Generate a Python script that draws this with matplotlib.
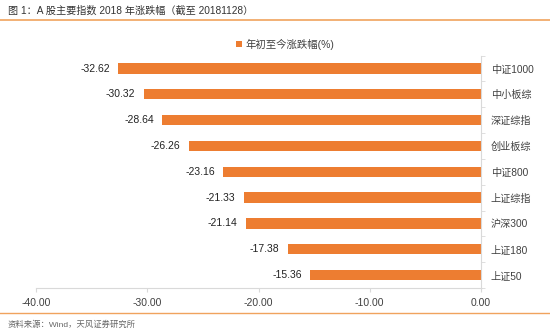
import matplotlib
matplotlib.use("Agg")
import matplotlib.pyplot as plt
from matplotlib.ticker import FixedLocator

plt.rcParams['font.family'] = ['Liberation Sans', 'Noto Sans CJK SC', 'DejaVu Sans']

indices = ["中证1000", "中小板综", "深证综指", "创业板综", "中证800",
           "上证综指", "沪深300", "上证180", "上证50"]
ytd_change = [-32.62, -30.32, -28.64, -26.26, -23.16, -21.33, -21.14, -17.38, -15.36]
x_ticks = [-40, -30, -20, -10, 0]
series_name = "年初至今涨跌幅(%)"
title = "图 1：A 股主要指数 2018 年涨跌幅（截至 20181128）"
source = "资料来源：Wind，天风证券研究所"

bar_color = "#ED7D31"
text_color = "#404040"
grid_gray = "#D9D9D9"
accent = "#F0A35E"

W, H = 550, 333
fig = plt.figure(figsize=(W / 100, H / 100), dpi=100)
ax = fig.add_axes([36 / W, 1 - 288 / H, 445 / W, (288 - 55.6) / H])

n = len(indices)
ypos = list(range(n))
bars = ax.barh(ypos, ytd_change, height=0.4, color=bar_color, label=series_name, zorder=2)
ax.set_ylim(n - 0.5, -0.5)
ax.set_xlim(-40, 0)

for y, v in zip(ypos, ytd_change):
    ax.annotate(f"{v:.2f}", xy=(v, y), xytext=(-6, 0), textcoords="offset points",
                ha="right", va="center", fontsize=7.5, color="#222222")

# category axis on the right, at zero
ax.yaxis.tick_right()
ax.set_yticks(ypos)
ax.set_yticklabels(indices, fontsize=7.3, color=text_color)
ax.yaxis.set_minor_locator(FixedLocator([i - 0.5 for i in range(n + 1)]))
ax.tick_params(axis="y", which="major", length=0, pad=7)
ax.tick_params(axis="y", which="minor", length=3, color=grid_gray, direction="out")

ax.set_xticks(x_ticks)
ax.set_xticklabels([f"{t:.2f}" for t in x_ticks], fontsize=7.5, color=text_color)
ax.tick_params(axis="x", length=3, color=grid_gray, direction="out", pad=4)

for side in ["top", "left"]:
    ax.spines[side].set_visible(False)
ax.spines["right"].set_color(grid_gray)
ax.spines["bottom"].set_color(grid_gray)
ax.spines["right"].set_linewidth(0.8)
ax.spines["bottom"].set_linewidth(0.8)

leg = fig.legend(handles=[bars], labels=[series_name], loc="center",
                 bbox_to_anchor=(285 / W, 1 - 44 / H), frameon=False,
                 fontsize=7.5, handlelength=0.6, handleheight=0.6, handletextpad=0.3)
for t in leg.get_texts():
    t.set_color(text_color)

fig.text(8 / W, 1 - 11 / H, title, fontsize=7.3, color="#333333", ha="left", va="center")
fig.add_artist(plt.Line2D([0, 1], [1 - 20 / H, 1 - 20 / H], color=accent, lw=1.2,
                          transform=fig.transFigure))
fig.add_artist(plt.Line2D([0, 1], [1 - 313 / H, 1 - 313 / H], color=accent, lw=1.0,
                          transform=fig.transFigure))
fig.text(8 / W, 1 - 325 / H, source, fontsize=6.0, color="#666666", ha="left", va="center")

fig.savefig("out.png", dpi=100)
